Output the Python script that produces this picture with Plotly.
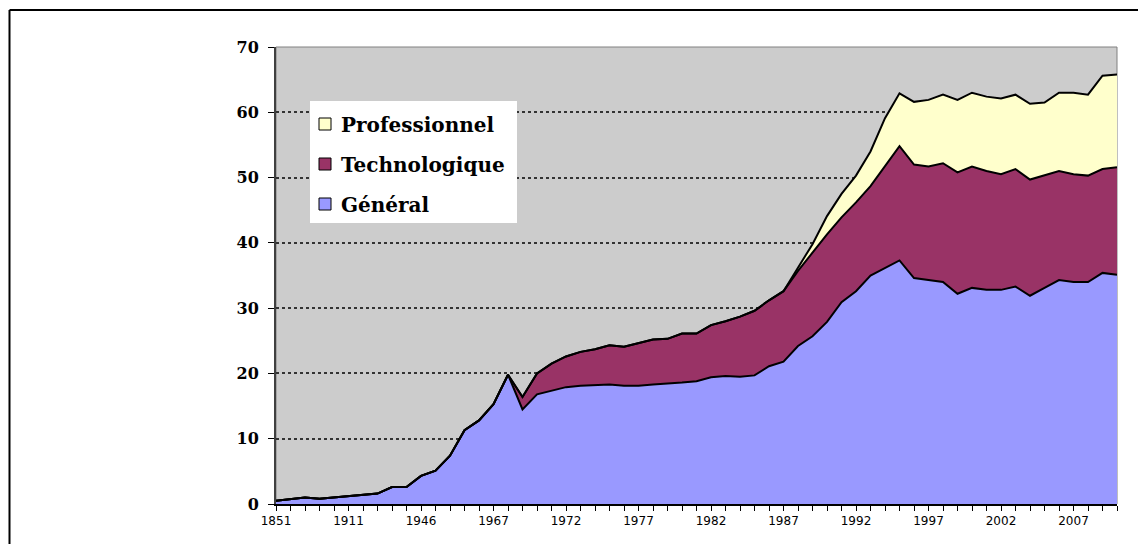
import plotly.graph_objects as go

# ---- data ----
years = ["1851", "1866", "1881", "1891", "1901", "1911", "1921", "1926", "1931", "1936",
         "1946", "1950", "1955", "1960", "1965"] + [str(y) for y in range(1967, 2011)]

general = [0.5, 0.8, 1.0, 0.8, 1.0, 1.1, 1.3, 1.6, 2.6, 2.6,
           4.3, 5.1, 7.4, 11.3, 12.8, 15.3, 19.8, 14.5, 16.8, 17.3,
           17.9, 18.1, 18.2, 18.3, 18.1, 18.1, 18.3, 18.4, 18.6, 18.8,
           19.4, 19.6, 19.5, 19.7, 21.1, 21.8, 24.2, 25.7, 27.9, 30.9,
           32.6, 35.0, 36.1, 37.3, 34.6, 34.3, 34.0, 32.2, 33.1, 32.8,
           32.8, 33.3, 31.9, 33.1, 34.3, 34.0, 34.0, 35.4, 35.1]

technologique = [0, 0, 0, 0, 0, 0, 0, 0, 0, 0,
                 0, 0, 0, 0, 0, 0, 0, 1.9, 3.2, 4.2,
                 4.7, 5.2, 5.5, 6.0, 6.0, 6.5, 6.9, 6.9, 7.5, 7.3,
                 8.0, 8.4, 9.2, 9.9, 10.1, 10.8, 11.5, 12.8, 13.4, 13.0,
                 13.6, 13.7, 15.7, 17.5, 17.4, 17.4, 18.2, 18.6, 18.6, 18.2,
                 17.7, 18.0, 17.8, 17.2, 16.7, 16.5, 16.3, 15.9, 16.5]

professionnel = [0, 0, 0, 0, 0, 0, 0, 0, 0, 0,
                 0, 0, 0, 0, 0, 0, 0, 0, 0, 0,
                 0, 0, 0, 0, 0, 0, 0, 0, 0, 0,
                 0, 0, 0, 0, 0, 0, 0.4, 1.3, 2.8, 3.6,
                 4.1, 5.3, 7.3, 8.1, 9.6, 10.2, 10.5, 11.1, 11.3, 11.4,
                 11.6, 11.4, 11.6, 11.2, 12.0, 12.5, 12.4, 14.3, 14.2]

series_names = ["Général", "Technologique", "Professionnel"]
series_values = [general, technologique, professionnel]
series_colors = ["#9999FF", "#993366", "#FFFFCC"]

tick_labels = [y if i % 5 == 0 else "" for i, y in enumerate(years)]

# ---- figure (page has an 8px body margin; keep it within the window) ----
OFF = 8
W, H = 1146 - 2 * OFF, 552 - 2 * OFF
L, T = 276 - OFF, 47 - OFF
R = W - (1117 - OFF)
B = H - (504 - OFF)
PW, PH = W - L - R, H - T - B

def px(x):  # page pixel x -> paper
    return (x - OFF - L) / PW

def py(y):  # page pixel y -> paper
    return (H - B - (y - OFF)) / PH

fig = go.Figure()
for name, vals, col in zip(series_names, series_values, series_colors):
    fig.add_trace(go.Scatter(
        x=years, y=vals, name=name, mode="lines",
        stackgroup="one", fillcolor=col,
        line=dict(color="black", width=2),
        showlegend=False, hoverinfo="x+y+name",
    ))

total_last = general[-1] + technologique[-1] + professionnel[-1]

shapes = [
    dict(type="line", xref="x", yref="y", x0=years[-1], x1=years[-1], y0=0, y1=total_last,
         line=dict(color="black", width=2.5), layer="above"),
    dict(type="rect", xref="paper", yref="paper", x0=0, x1=1, y0=0, y1=1,
         line=dict(color="#808080", width=1), layer="below"),
    # outer chart frame (only top and left edges visible)
    dict(type="line", xref="paper", yref="paper", x0=px(9.5), x1=px(OFF + W), y0=py(10), y1=py(10),
         line=dict(color="black", width=2), layer="above"),
    dict(type="line", xref="paper", yref="paper", x0=px(9.5), x1=px(9.5), y0=py(10), y1=py(OFF + H),
         line=dict(color="black", width=2), layer="above"),
    dict(type="rect", xref="paper", yref="paper", x0=px(310), x1=px(517), y0=py(223), y1=py(101),
         fillcolor="white", line=dict(width=0), layer="above"),
]
annotations = []
legend_rows = [("Professionnel", "#FFFFCC", 124), ("Technologique", "#993366", 164), ("Général", "#9999FF", 204)]
for name, col, cy in legend_rows:
    shapes.append(dict(type="rect", xref="paper", yref="paper",
                       x0=px(319), x1=px(331), y0=py(cy + 6), y1=py(cy - 6),
                       fillcolor=col, line=dict(color="black", width=1), layer="above"))
    annotations.append(dict(xref="paper", yref="paper", x=px(339), y=py(cy + 1),
                            xanchor="left", yanchor="middle", showarrow=False,
                            text="<b>%s</b>" % name,
                            font=dict(family="DejaVu Serif", size=20, color="black")))

fig.update_layout(
    width=W, height=H,
    margin=dict(l=L, r=R, t=T, b=B, pad=0),
    paper_bgcolor="white", plot_bgcolor="#CCCCCC",
    shapes=shapes, annotations=annotations,
    showlegend=False,
)
fig.update_xaxes(
    type="category", range=[0, len(years) - 1],
    tickmode="array", tickvals=years, ticktext=tick_labels,
    ticks="outside", ticklen=5, tickcolor="black", tickwidth=1,
    showline=True, linecolor="black", linewidth=2,
    showgrid=False, zeroline=False,
    tickfont=dict(family="DejaVu Sans", size=12, color="black"),
    tickangle=0,
)
fig.update_yaxes(
    range=[0, 70], dtick=10, tick0=0,
    ticks="outside", ticklen=6, tickcolor="black", tickwidth=1,
    showline=True, linecolor="#404040", linewidth=2,
    showgrid=True, gridcolor="#333333", gridwidth=2, griddash="dot",
    zeroline=False,
    tickfont=dict(family="DejaVu Serif", size=16, color="black", weight="bold"),
    ticklabelstandoff=6,
)

fig.write_html("out.html")
